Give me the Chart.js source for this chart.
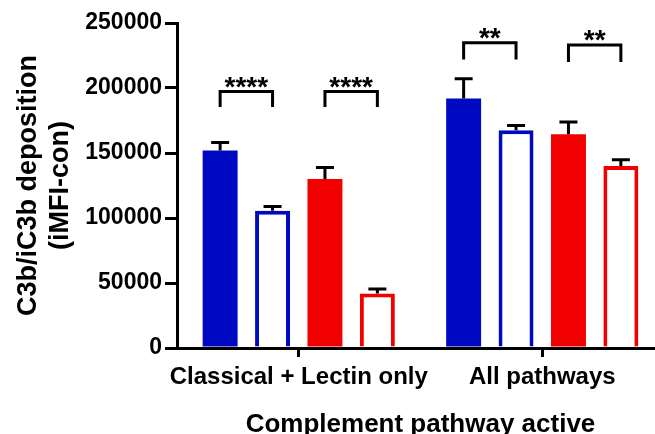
<!DOCTYPE html>
<html>
<head>
<meta charset="utf-8">
<script src="https://cdn.jsdelivr.net/npm/chart.js@4.4.0/dist/chart.umd.min.js"></script>
<style>
html, body { margin: 0; padding: 0; background: #fff; overflow: hidden; }
#wrap { width: 680px; height: 442px; }
</style>
</head>
<body>
<div id="wrap"><canvas id="grafico"></canvas></div>
<script>
// Categories on the x axis
var categorias = ['Classical + Lectin only', 'All pathways'];

// Series (mean and upper error per category)
var nomesSeries = ['Blue filled', 'Blue open', 'Red filled', 'Red open'];
var mediaAzulCheio = [152000, 192000];
var erroAzulCheio = [6000, 15200];
var mediaAzulVazio = [105500, 167500];
var erroAzulVazio = [3300, 3700];
var mediaVermelhoCheio = [130000, 164500];
var erroVermelhoCheio = [8800, 9300];
var mediaVermelhoVazio = [42000, 140000];
var erroVermelhoVazio = [3400, 4800];

// Y axis tick labels
var ticksY = [0, 50000, 100000, 150000, 200000, 250000];

// Significance brackets
var sigCategoria = [0, 0, 1, 1];
var sigDe = [0, 2, 0, 2];
var sigAte = [1, 3, 1, 3];
var sigTopo = [197300, 197300, 234800, 233000];
var sigPerna = [185400, 185400, 222000, 220000];
var sigTexto = ['****', '****', '**', '**'];

var AZUL = '#0009C2';
var VERMELHO = '#F20000';

Chart.defaults.font.family = "'Liberation Sans', Arial, sans-serif";
Chart.defaults.font.weight = 'bold';
Chart.defaults.color = '#000';

var erros = [erroAzulCheio, erroAzulVazio, erroVermelhoCheio, erroVermelhoVazio];

// Draws the error bars and the significance brackets
var extrasPlugin = {
    id: 'extras',
    afterDatasetsDraw: function (chart) {
        var ctx = chart.ctx;
        var y = chart.scales.y;
        ctx.save();
        ctx.strokeStyle = '#000';
        ctx.lineWidth = 3;
        ctx.lineCap = 'butt';
        ctx.lineJoin = 'miter';

        for (var i = 0; i < chart.data.datasets.length; i++) {
            var meta = chart.getDatasetMeta(i);
            var dados = chart.data.datasets[i].data;
            for (var j = 0; j < meta.data.length; j++) {
                var bar = meta.data[j];
                var topo = y.getPixelForValue(dados[j] + erros[i][j]);
                ctx.beginPath();
                ctx.moveTo(bar.x, bar.y);
                ctx.lineTo(bar.x, topo);
                ctx.moveTo(bar.x - 9, topo);
                ctx.lineTo(bar.x + 9, topo);
                ctx.stroke();
            }
        }

        ctx.font = "bold 28px 'Liberation Sans', Arial, sans-serif";
        ctx.fillStyle = '#000';
        ctx.textAlign = 'center';
        ctx.textBaseline = 'alphabetic';
        for (var k = 0; k < sigTexto.length; k++) {
            var x1 = chart.getDatasetMeta(sigDe[k]).data[sigCategoria[k]].x;
            var x2 = chart.getDatasetMeta(sigAte[k]).data[sigCategoria[k]].x;
            var yTopo = y.getPixelForValue(sigTopo[k]);
            var yPerna = y.getPixelForValue(sigPerna[k]);
            ctx.beginPath();
            ctx.moveTo(x1, yPerna);
            ctx.lineTo(x1, yTopo);
            ctx.lineTo(x2, yTopo);
            ctx.lineTo(x2, yPerna);
            ctx.stroke();
            ctx.fillText(sigTexto[k], (x1 + x2) / 2, yTopo + 4);
        }
        ctx.restore();
    }
};

var ctx = document.getElementById('grafico').getContext('2d');
new Chart(ctx, {
    type: 'bar',
    data: {
        labels: categorias,
        datasets: [
            { label: nomesSeries[0], data: mediaAzulCheio, backgroundColor: AZUL, borderWidth: 0 },
            { label: nomesSeries[1], data: mediaAzulVazio, backgroundColor: '#fff', borderColor: AZUL, borderWidth: 4 },
            { label: nomesSeries[2], data: mediaVermelhoCheio, backgroundColor: VERMELHO, borderWidth: 0 },
            { label: nomesSeries[3], data: mediaVermelhoVazio, backgroundColor: '#fff', borderColor: VERMELHO, borderWidth: 4 }
        ]
    },
    options: {
        responsive: true,
        maintainAspectRatio: false,
        animation: false,
        categoryPercentage: 0.861,
        barPercentage: 0.667,
        layout: { padding: { top: 23, right: 16, left: 0, bottom: 0 } },
        scales: {
            x: {
                z: 1,
                offset: true,
                grid: { offset: false, drawOnChartArea: false, drawTicks: true, tickLength: 9, lineWidth: 3, color: '#000' },
                border: { display: true, color: '#000', width: 3 },
                ticks: { font: { size: 24 }, padding: 6, maxRotation: 0, autoSkip: false },
                title: {
                    display: true,
                    text: 'Complement pathway active',
                    font: { size: 26 },
                    padding: { top: 0, bottom: 2 }
                },
                afterFit: function (scale) { scale.height = 94; }
            },
            y: {
                z: 1,
                min: 0,
                max: 250000,
                afterBuildTicks: function (scale) {
                    scale.ticks = ticksY.map(function (v) { return { value: v }; });
                },
                grid: { drawOnChartArea: false, drawTicks: true, tickLength: 12, lineWidth: 3, color: '#000' },
                border: { display: true, color: '#000', width: 3 },
                ticks: {
                    font: { size: 23 },
                    padding: 3,
                    callback: function (v) { return String(v); }
                },
                title: {
                    display: true,
                    text: ['C3b/iC3b deposition', '(iMFI-con)'],
                    font: { size: 27 },
                    padding: { top: 12, bottom: 0 }
                },
                afterFit: function (scale) { scale.width = 177; }
            }
        },
        plugins: {
            legend: { display: false },
            tooltip: { enabled: false }
        }
    },
    plugins: [extrasPlugin]
});
</script>
</body>
</html>
